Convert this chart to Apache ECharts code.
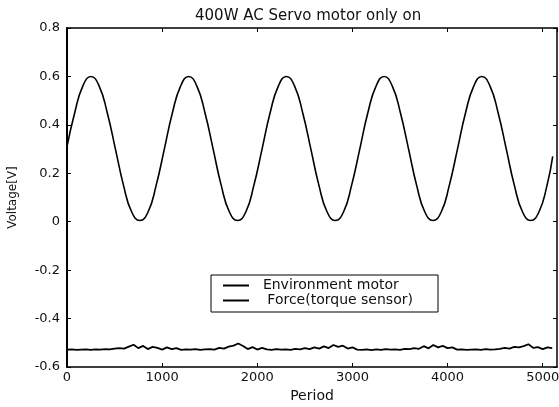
<!DOCTYPE html>
<html>
<head>
<meta charset="utf-8">
<script src="https://cdn.jsdelivr.net/npm/echarts@6/dist/echarts.min.js"></script>
<style>
html, body { margin: 0; padding: 0; background: #fff; }
#main { width: 559px; height: 407px; }
</style>
</head>
<body>
<div id="main"></div>
<script>
// sine (Environment motor)
var motorX = [0, 81, 166, 252, 338, 423, 509, 594, 680, 766,
	852, 937, 1023, 1108, 1194, 1279, 1365, 1450, 1536, 1621, 1707, 1793,
	1879, 1964, 2050, 2135, 2221, 2306, 2392, 2477, 2563, 2648, 2734, 2820,
	2906, 2991, 3077, 3162, 3248, 3333, 3419, 3504, 3590, 3675, 3761, 3847,
	3933, 4018, 4104, 4189, 4275, 4360, 4446, 4531, 4617, 4702, 4788, 4874,
	4960, 5045, 5105];
var motorY = [0.31, 0.45, 0.56, 0.60, 0.56, 0.45, 0.30, 0.15, 0.04, 0.005,
	0.04, 0.15, 0.30, 0.45, 0.56, 0.60, 0.56, 0.45, 0.30, 0.15, 0.04, 0.005,
	0.04, 0.15, 0.30, 0.45, 0.56, 0.60, 0.56, 0.45, 0.30, 0.15, 0.04, 0.005,
	0.04, 0.15, 0.30, 0.45, 0.56, 0.60, 0.56, 0.45, 0.30, 0.15, 0.04, 0.005,
	0.04, 0.15, 0.30, 0.45, 0.56, 0.60, 0.56, 0.45, 0.30, 0.15, 0.04, 0.005,
	0.04, 0.15, 0.27];

// torque sensor line
var forceX = [0, 50, 100, 150, 200, 250, 300, 350, 400, 450,
	500, 550, 600, 650, 700, 750, 800, 850, 900, 950,
	1000, 1050, 1100, 1150, 1200, 1250, 1300, 1350, 1400, 1450,
	1500, 1550, 1600, 1650, 1700, 1750, 1800, 1850, 1900, 1950,
	2000, 2050, 2100, 2150, 2200, 2250, 2300, 2350, 2400, 2450,
	2500, 2550, 2600, 2650, 2700, 2750, 2800, 2850, 2900, 2950,
	3000, 3050, 3100, 3150, 3200, 3250, 3300, 3350, 3400, 3450,
	3500, 3550, 3600, 3650, 3700, 3750, 3800, 3850, 3900, 3950,
	4000, 4050, 4100, 4150, 4200, 4250, 4300, 4350, 4400, 4450,
	4500, 4550, 4600, 4650, 4700, 4750, 4800, 4850, 4900, 4950,
	5000, 5050, 5100];
var forceY = [-0.528, -0.527, -0.529, -0.528, -0.527, -0.529, -0.527, -0.528, -0.526, -0.527,
	-0.524, -0.522, -0.524, -0.516, -0.508, -0.522, -0.513, -0.526, -0.517, -0.521,
	-0.528, -0.519, -0.526, -0.522, -0.529, -0.527, -0.528, -0.526, -0.529, -0.527,
	-0.526, -0.528, -0.521, -0.524, -0.516, -0.512, -0.503, -0.513, -0.526, -0.518,
	-0.528, -0.521, -0.527, -0.529, -0.526, -0.528, -0.527, -0.529, -0.525, -0.527,
	-0.522, -0.526, -0.519, -0.524, -0.515, -0.522, -0.509, -0.517, -0.512, -0.524,
	-0.519, -0.528, -0.529, -0.527, -0.530, -0.527, -0.529, -0.526, -0.528, -0.527,
	-0.529, -0.525, -0.526, -0.522, -0.525, -0.514, -0.523, -0.509, -0.519, -0.513,
	-0.522, -0.519, -0.528, -0.527, -0.529, -0.528, -0.527, -0.529, -0.526, -0.528,
	-0.527, -0.525, -0.521, -0.524, -0.517, -0.519, -0.514, -0.506, -0.521, -0.518,
	-0.526, -0.519, -0.522];

var xTickVals = [0, 1000, 2000, 3000, 4000, 5000];
var xTickLabels = ['0', '1000', '2000', '3000', '4000', '5000'];
var yTickVals = [-0.6, -0.4, -0.2, 0, 0.2, 0.4, 0.6, 0.8];
var yTickLabels = ['-0.6', '-0.4', '-0.2', '0', '0.2', '0.4', '0.6', '0.8'];

function pairs(xs, ys) {
	var out = [];
	for (var i = 0; i < xs.length; i++) out.push([xs[i], ys[i]]);
	return out;
}
function pick(vals, labels) {
	return function (v) {
		for (var i = 0; i < vals.length; i++) {
			if (Math.abs(vals[i] - v) < 1e-6) return labels[i];
		}
		return '';
	};
}

var font = 'DejaVu Sans';
var myChart = echarts.init(document.getElementById('main'));
var axisLine = { onZero: false, lineStyle: { color: '#000', width: 1.5 } };
var tick = { inside: true, length: 4, lineStyle: { color: '#000' } };
var option = {
	backgroundColor: '#fff',
	animation: false,
	title: {
		text: '400W AC Servo motor only on',
		left: 190, top: 4,
		textStyle: { fontFamily: font, fontSize: 15, fontWeight: 'normal', color: '#111' }
	},
	grid: { left: 67, right: 2, top: 28, bottom: 40, outerBoundsMode: 'none', containLabel: false },
	legend: {
		left: 211, top: 275,
		orient: 'vertical',
		backgroundColor: '#fff',
		borderColor: '#000', borderWidth: 1, borderRadius: 0,
		padding: [3, 8, 4, 11],
		itemGap: 0,
		itemWidth: 26, itemHeight: 12,
		itemStyle: { opacity: 0 },
		formatter: function (name) {
			return name === 'Environment motor' ? '  ' + name : '   ' + name;
		},
		textStyle: { fontFamily: font, fontSize: 14, color: '#111', lineHeight: 15, width: 176 },
		data: ['Environment motor', 'Force(torque sensor)']
	},
	xAxis: [{
		type: 'value', min: 0, max: 5150, interval: 1000,
		name: 'Period', nameLocation: 'middle', nameGap: 22,
		nameTextStyle: { fontFamily: font, fontSize: 14, color: '#111' },
		axisLine: axisLine, axisTick: tick,
		axisLabel: { fontFamily: font, fontSize: 13, color: '#111', margin: 4, showMaxLabel: false,
			formatter: pick(xTickVals, xTickLabels) },
		splitLine: { show: false }
	}, {
		type: 'value', min: 0, max: 5150, interval: 1000, position: 'top',
		axisLine: axisLine, axisTick: tick, axisLabel: { show: false }, splitLine: { show: false }
	}],
	yAxis: [{
		type: 'value', min: -0.6, max: 0.8, interval: 0.2,
		name: 'Voltage[V]', nameLocation: 'middle', nameGap: 48,
		nameTextStyle: { fontFamily: font, fontSize: 12, color: '#111' },
		axisLine: { onZero: false, lineStyle: { color: '#000', width: 2 } }, axisTick: tick,
		axisLabel: { fontFamily: font, fontSize: 13, color: '#111', margin: 7,
			formatter: pick(yTickVals, yTickLabels) },
		splitLine: { show: false }
	}, {
		type: 'value', min: -0.6, max: 0.8, interval: 0.2, position: 'right',
		axisLine: axisLine, axisTick: tick, axisLabel: { show: false }, splitLine: { show: false }
	}],
	series: [{
		name: 'Environment motor',
		type: 'line',
		smooth: 0.5,
		symbol: 'none',
		lineStyle: { color: '#000', width: 1.6 },
		itemStyle: { color: '#000' },
		data: pairs(motorX, motorY)
	}, {
		name: 'Force(torque sensor)',
		type: 'line',
		symbol: 'none',
		lineStyle: { color: '#000', width: 1.8 },
		itemStyle: { color: '#000' },
		data: pairs(forceX, forceY)
	}]
};
myChart.setOption(option);
</script>
</body>
</html>
